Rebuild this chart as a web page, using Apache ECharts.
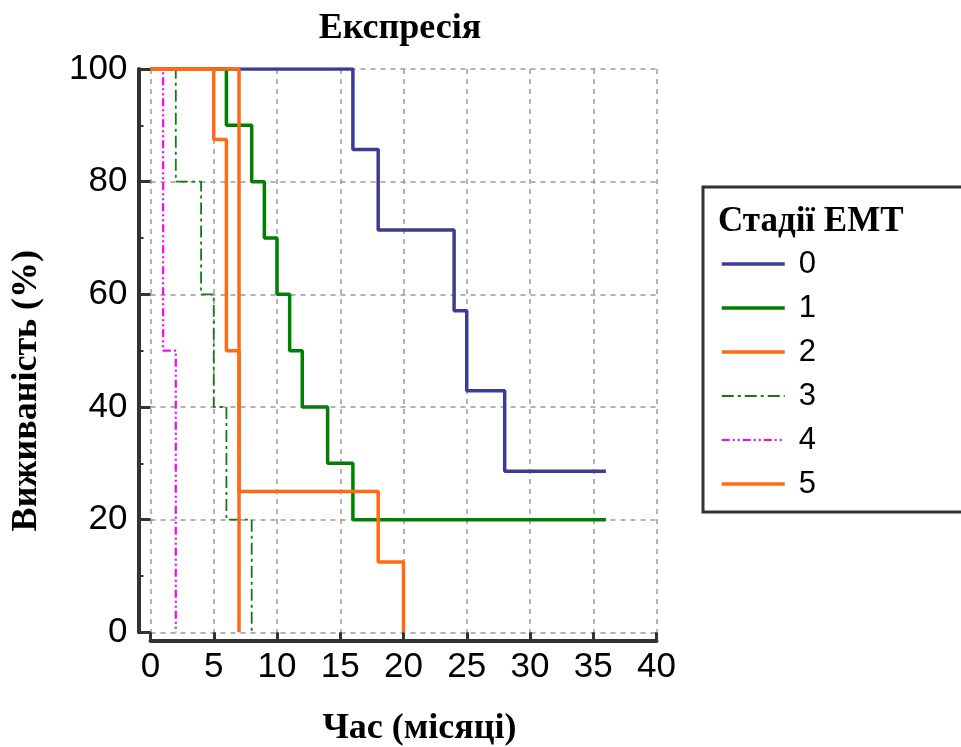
<!DOCTYPE html>
<html style="height: 100%">
<head>
<meta charset="utf-8">
<script type="text/javascript" src="https://cdn.jsdelivr.net/npm/echarts@6/dist/echarts.min.js"></script>
</head>
<body style="height: 100%; margin: 0; background: #fff">
	<div id="container" style="width: 961px; height: 747px;"></div>
	<script type="text/javascript">
		// стадії ЕМТ, час (місяці) і виживаність (%) по кожній кривій
		var groupNames = ['0', '1', '2', '3', '4', '5'];
		var time0 = [0, 16, 18, 24, 25, 28, 36];
		var surv0 = [100, 85.7, 71.4, 57.1, 42.9, 28.6, 28.6];
		var time1 = [0, 6, 8, 9, 10, 11, 12, 14, 16, 36];
		var surv1 = [100, 90, 80, 70, 60, 50, 40, 30, 20, 20];
		var time2 = [0, 5, 6, 7];
		var surv2 = [100, 87.5, 50, 0];
		var time3 = [0, 2, 4, 5, 6, 8];
		var surv3 = [100, 80, 60, 40, 20, 0];
		var time4 = [0, 1, 2];
		var surv4 = [100, 50, 0];
		var time5 = [0, 7, 18, 20];
		var surv5 = [100, 25, 12.5, 0];
		var xTicks = [0, 5, 10, 15, 20, 25, 30, 35, 40];
		var yTicks = [0, 20, 40, 60, 80, 100];

		var times = [time0, time1, time2, time3, time4, time5];
		var survs = [surv0, surv1, surv2, surv3, surv4, surv5];
		var colors = ['#3b3b98', '#008000', '#ff6a13', '#137a13', '#ff00ff', '#ff6a13'];
		var widths = [3.5, 3.5, 3.5, 1.8, 2.2, 3.5];
		var dashes = ['solid', 'solid', 'solid', [12, 4, 3, 4], [8, 3, 2, 3, 2, 3], 'solid'];
		var zs = [2, 2, 4, 3, 3, 4];

		function pairs(t, s) {
			var out = [];
			for (var i = 0; i < t.length; i++) out.push([t[i], s[i]]);
			return out;
		}

		var series = [];
		var legendData = [];
		for (var g = 0; g < groupNames.length; g++) {
			series.push({
				name : groupNames[g],
				type : 'line',
				step : 'end',
				symbol : 'none',
				z : zs[g],
				data : pairs(times[g], survs[g]),
				lineStyle : {
					color : colors[g],
					width : widths[g],
					type : dashes[g]
				},
				itemStyle : { color : colors[g] }
			});
			legendData.push({
				name : groupNames[g],
				lineStyle : { width : widths[g], type : dashes[g], color : colors[g] }
			});
		}

		var serif = '"Liberation Serif", "Times New Roman", serif';
		var sans = '"Liberation Sans", Arial, sans-serif';

		var myChart = echarts.init(document.getElementById("container"));
		var option = {
			animation : false,
			backgroundColor : '#fff',
			title : [ {
				text : 'Експресія',
				left : 395,
				top : 6,
				textAlign : 'center',
				textStyle : { fontFamily : serif, fontWeight : 'bold', fontSize : 36, color : '#000' }
			}, {
				text : 'Стадії ЕМТ',
				left : 713,
				top : 199,
				textStyle : { fontFamily : serif, fontWeight : 'bold', fontSize : 35, color : '#000' }
			} ],
			graphic : [ {
				type : 'rect',
				z : -1,
				shape : { x : 703, y : 187, width : 300, height : 325 },
				style : { fill : '#fff', stroke : '#333', lineWidth : 3 }
			} ],
			legend : {
				orient : 'vertical',
				left : 720,
				top : 242,
				padding : 0,
				itemWidth : 63,
				itemHeight : 14,
				itemGap : 0,
				itemStyle : { opacity : 0 },
				data : legendData,
				textStyle : { fontFamily : sans, fontSize : 31, color : '#000', lineHeight : 44, padding : [0, 0, 0, 9] }
			},
			grid : { left : 150.5, right : 304.5, top : 69, bottom : 114.7, containLabel : false, outerBoundsMode : 'none' },
			xAxis : {
				type : 'value',
				min : xTicks[0],
				max : xTicks[xTicks.length - 1],
				interval : 5,
				offset : 8,
				name : 'Час (місяці)',
				nameLocation : 'middle',
				nameGap : 70,
				nameTextStyle : { fontFamily : serif, fontWeight : 'bold', fontSize : 36, color : '#000', padding : [0, 0, 0, 32] },
				axisLine : { onZero : false, lineStyle : { color : '#333', width : 4 } },
				axisTick : { inside : true, length : 8, lineStyle : { color : '#333', width : 3 } },
				axisLabel : { margin : 10, fontFamily : sans, fontSize : 35, color : '#000' },
				splitLine : { show : true, lineStyle : { color : '#999', width : 1.5, type : [5, 5] } }
			},
			yAxis : {
				type : 'value',
				min : yTicks[0],
				max : yTicks[yTicks.length - 1],
				interval : 20,
				offset : 12,
				name : 'Виживаність (%)',
				nameLocation : 'middle',
				nameRotate : 90,
				nameGap : 94,
				nameTextStyle : { fontFamily : serif, fontWeight : 'bold', fontSize : 36, color : '#000', padding : [0, 80, 0, 0] },
				axisLine : { show : true, onZero : false, lineStyle : { color : '#333', width : 4 } },
				axisTick : { show : true, inside : true, length : 12, lineStyle : { color : '#333', width : 3 } },
				minorTick : { show : true, splitNumber : 2, length : 5, lineStyle : { color : '#333', width : 2 } },
				axisLabel : { margin : 11, fontFamily : sans, fontSize : 35, color : '#000' },
				splitLine : { show : true, lineStyle : { color : '#999', width : 1.5, type : [5, 5] } }
			},
			series : series
		};
		myChart.setOption(option, true);
	</script>
</body>
</html>
